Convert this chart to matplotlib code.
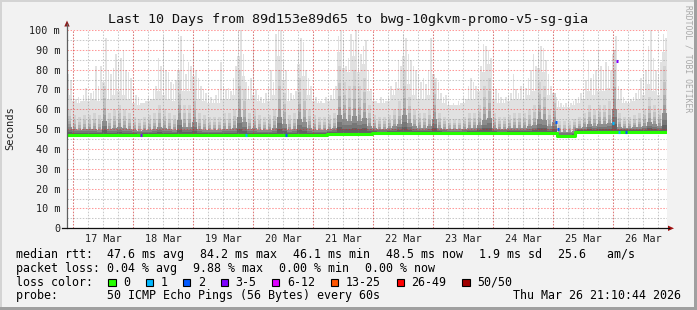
"""SmokePing style latency chart: last 10 days to bwg-10gkvm-promo-v5-sg-gia."""

import numpy as np
import matplotlib

matplotlib.use("Agg")
import matplotlib.pyplot as plt
from matplotlib.lines import Line2D
from matplotlib.patches import Polygon, Rectangle

plt.rcParams["font.family"] = ["DejaVu Sans Mono"]
plt.rcParams["lines.scale_dashes"] = False

# ---- data (hours since Mar 16 21:36, ms) ----
day_labels = ["17 Mar", "18 Mar", "19 Mar", "20 Mar", "21 Mar",
              "22 Mar", "23 Mar", "24 Mar", "25 Mar", "26 Mar"]

# hourly upper edge of the smoke
smoke_top = [
    78, 75, 67, 65, 66, 64, 67, 71, 66, 68, 69, 82, 72, 82, 74, 96, 80, 78, 81, 88, 84, 86, 90, 80,
    79, 76, 72, 67, 66, 63, 63, 64, 66, 65, 70, 72, 86, 82, 97, 80, 79, 74, 73, 75, 80, 97, 88, 78,
    84, 82, 93, 80, 76, 72, 70, 68, 67, 66, 65, 67, 70, 84, 72, 70, 71, 69, 76, 82, 100, 100, 88, 74,
    72, 76, 90, 70, 67, 66, 65, 68, 72, 80, 74, 98, 100, 100, 85, 80, 70, 68, 67, 69, 90, 96, 94, 80,
    76, 72, 70, 66, 64, 64, 63, 66, 65, 67, 70, 72, 97, 100, 95, 82, 86, 98, 95, 100, 90, 88, 92, 95,
    80, 70, 68, 64, 63, 66, 65, 64, 66, 72, 70, 74, 85, 82, 98, 96, 88, 85, 82, 80, 78, 74, 76, 73,
    80, 96, 78, 76, 74, 68, 66, 67, 64, 62, 63, 62, 64, 63, 66, 65, 72, 76, 74, 72, 70, 82, 93, 92,
    90, 86, 72, 70, 68, 66, 65, 66, 67, 68, 78, 70, 68, 72, 73, 71, 76, 80, 88, 82, 90, 92, 91, 85,
    78, 72, 68, 66, 64, 63, 62, 63, 64, 63, 64, 65, 66, 68, 70, 75, 85, 76, 78, 80, 90, 82, 80, 84,
    82, 80, 88, 97, 72, 70, 66, 64, 64, 65, 66, 68, 70, 76, 78, 80, 92, 100, 86, 80, 78, 84, 98, 96,
]

# 2-hourly height of the dense (dark) part of the smoke
smoke_dark = [
    60, 57, 56, 57, 57, 58, 57, 72, 58, 60, 62, 60,
    58, 56, 55, 56, 57, 58, 62, 60, 58, 57, 75, 62,
    62, 70, 58, 57, 56, 56, 56, 58, 58, 60, 80, 70,
    58, 60, 57, 56, 57, 60, 80, 68, 57, 58, 76, 70,
    60, 57, 56, 56, 57, 58, 82, 74, 72, 80, 72, 76,
    62, 57, 56, 56, 57, 60, 64, 80, 66, 60, 58, 58,
    60, 74, 58, 56, 55, 55, 55, 56, 58, 58, 62, 72,
    76, 58, 56, 56, 57, 58, 58, 58, 60, 62, 74, 72,
    60, 68, 54, 54, 54, 55, 56, 58, 62, 60, 62, 62,
    64, 90, 58, 56, 56, 57, 58, 60, 66, 62, 60, 82,
]

# median rtt as steps
median_hours = [0, 10, 104, 122, 196, 203, 240]
median_ms = [47.3, 46.9, 47.5, 48.0, 46.5, 48.6, 48.6]

# median samples with packet loss
loss_hours = [29, 71, 87, 195, 196, 217.8, 219.6, 220.5, 223.2]
loss_ms = [47.2, 47.0, 46.9, 53.5, 50.0, 53.0, 84.2, 48.8, 48.6]
loss_class = ["3-5", "1", "2", "2", "2", "1", "3-5", "1", "2"]

loss_labels = ["0", "1", "2", "3-5", "6-12", "13-25", "26-49", "50/50"]
loss_colors = ["#26ff00", "#00b8ff", "#0059ff", "#7e00ff",
               "#dd00ff", "#ff5500", "#ff0000", "#a00000"]

rtt_stats = ["median rtt:  47.6 ms avg", "84.2 ms max", "46.1 ms min", "48.5 ms now",
             "1.9 ms sd", "25.6   am/s"]
loss_stats = ["packet loss: 0.04 % avg", "9.88 % max", "0.00 % min", "0.00 % now"]
probe_text = "probe:       50 ICMP Echo Pings (56 Bytes) every 60s"
stamp_text = "Thu Mar 26 21:10:44 2026"
title = "Last 10 Days from 89d153e89d65 to bwg-10gkvm-promo-v5-sg-gia"

# ---- figure ----
W, H = 697, 310
BG = "#f2f2f2"


def fx(x):
    return x / W


def fy(y):
    return 1 - y / H


fig = plt.figure(figsize=(W / 100, H / 100), dpi=100, facecolor=BG)
ax = fig.add_axes([fx(67), fy(228.3), 600 / W, 198.3 / H])
ax.set_facecolor("white")
for s in ax.spines.values():
    s.set_visible(False)

n = len(smoke_top)
hours = np.arange(n + 1)
top = np.append(smoke_top, smoke_top[-1]).astype(float)
dark = np.repeat(smoke_dark, 2).astype(float)
dark = np.append(dark, dark[-1])
idx = np.searchsorted(median_hours, hours, side="right") - 1
base = np.array(median_ms)[np.clip(idx, 0, len(median_ms) - 1)]

# smoke: sparse light spikes, then the dense gradient part
ax.bar(hours[:-1] + 0.2, top[:-1] - base[:-1], bottom=base[:-1], width=0.6, align="edge",
       color="#e1e1e1", lw=0, zorder=1)
ax.fill_between(hours, base - 0.5, np.minimum(top, dark + 7), step="post", color="#e1e1e1",
                lw=0, zorder=1)
shades = [(1.0, "#d2d2d2", 0.55), (0.75, "#c2c2c2", 0.55), (0.55, "#b0b0b0", 0.65),
          (0.4, "#9e9e9e", 0.75), (0.28, "#8c8c8c", 1.0), (0.18, "#777777", 1.0),
          (0.1, "#636363", 1.0)]
b2 = base[:-1:2]
for f, c, w in shades:
    lvl = np.minimum(base + (dark - base) * f, top)
    if w >= 1.0:
        ax.fill_between(hours, base - 0.5, lvl, step="post", color=c, lw=0, zorder=1)
    else:
        # upper layers drawn as narrower streaks
        l2 = np.maximum(lvl[:-1:2], lvl[1::2])
        ax.bar(hours[:-1:2] + 1 - w, l2 - b2 + 0.5, bottom=b2 - 0.5, width=2 * w,
               align="edge", color=c, lw=0, zorder=1)

# grid
dots = (0, (1.1, 1.1))
for h in np.arange(2.4 - 6, 241, 6):
    if 0 <= h <= 240:
        ax.axvline(h, color=(0.5, 0.5, 0.5, 0.42), lw=0.75, ls=dots, zorder=2)
for v in range(5, 100, 10):
    ax.axhline(v, color=(0.5, 0.5, 0.5, 0.42), lw=0.75, ls=dots, zorder=2)
for h in np.arange(2.4, 241, 24):
    ax.axvline(h, color=(1, 0, 0, 0.4), lw=0.75, ls=dots, zorder=2.1)
for v in range(10, 101, 10):
    ax.axhline(v, color=(1, 0, 0, 0.4), lw=0.75, ls=dots, zorder=2.1)

# median line
ax.step(median_hours, median_ms, where="post", color=loss_colors[0], lw=2.2,
        solid_capstyle="butt", zorder=4)
for h, v, c in zip(loss_hours, loss_ms, loss_class):
    ax.plot([h, h + 0.8], [v, v], color=loss_colors[loss_labels.index(c)], lw=2.2,
            solid_capstyle="butt", zorder=5)

ax.set_xlim(0, 240)
ax.set_ylim(0, 100)
ax.set_yticks(range(0, 101, 10))
ax.set_yticklabels(["0"] + [f"{v} m" for v in range(10, 101, 10)])
ax.set_xticks(np.arange(14.4, 240, 24))
ax.set_xticklabels(day_labels)
ax.tick_params(length=0, labelsize=7.3, colors="#202020")
ax.tick_params(axis="y", pad=5)
ax.tick_params(axis="x", pad=4)

# axis lines with arrows
fig.add_artist(Line2D([fx(67), fx(67)], [fy(228.3), fy(24)], color="#606060", lw=0.9))
fig.add_artist(Line2D([fx(62), fx(669)], [fy(228.3), fy(228.3)], color="#111111", lw=0.9))
fig.add_artist(Polygon([[fx(64.3), fy(26.5)], [fx(69.7), fy(26.5)], [fx(67), fy(20.5)]],
                       closed=True, color="#8b1a1a", lw=0))
fig.add_artist(Polygon([[fx(668), fy(225.6)], [fx(668), fy(231)], [fx(674), fy(228.3)]],
                       closed=True, color="#a01010", lw=0))

# frame
fig.add_artist(Rectangle((0, fy(2)), 1, 2 / H, color="#d4d4d4", lw=0))
fig.add_artist(Rectangle((0, 0), 2 / W, 1, color="#d4d4d4", lw=0))
fig.add_artist(Rectangle((0, 0), 1, 3 / H, color="#a0a0a0", lw=0))
fig.add_artist(Rectangle((fx(694), 0), 3 / W, 1, color="#a0a0a0", lw=0))

# texts
fig.text(fx(348.5), fy(19), title, ha="center", va="center", fontsize=9.6, color="#111111")
fig.text(fx(10.5), fy(128), "Seconds", rotation=90, ha="center", va="center", fontsize=7.5,
         color="#202020")
fig.text(fx(688), fy(5), "RRDTOOL / TOBI OETIKER", rotation=270, ha="center", va="top",
         fontsize=5.8, color="#a8a8a8")

LEG = 8.4
rtt_x = [16, 200, 292.7, 386, 479, 557.5]
for x, s in zip(rtt_x, rtt_stats):
    fig.text(fx(x), fy(254.3), s, va="center", fontsize=LEG)

loss_x = [16, 193.5, 279.3, 365]
for x, s in zip(loss_x, loss_stats):
    fig.text(fx(x), fy(268.3), s, va="center", fontsize=LEG)

fig.text(fx(16), fy(282.3), "loss color:", va="center", fontsize=LEG)
bx = 108.3
for lab, col in zip(loss_labels, loss_colors):
    fig.add_artist(Rectangle((fx(bx), fy(286)), 7.3 / W, 7.3 / H, facecolor=col,
                             edgecolor="black", lw=0.8))
    fig.text(fx(bx + 15), fy(282.3), lab, va="center", fontsize=LEG)
    bx = bx + 15 + len(lab) * 7.1 + 15.3

fig.text(fx(16), fy(295.7), probe_text, va="center", fontsize=LEG)
fig.text(fx(681), fy(295.7), stamp_text, ha="right", va="center", fontsize=LEG)

fig.savefig("out.png", dpi=100, facecolor=BG)
